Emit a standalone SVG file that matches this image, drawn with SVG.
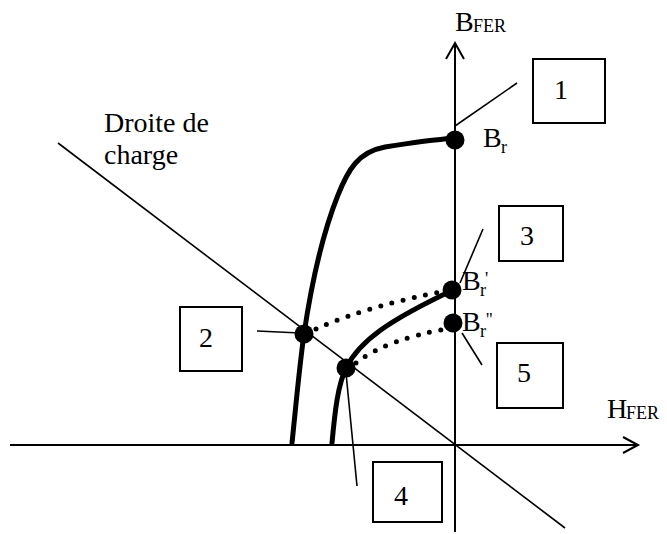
<svg xmlns="http://www.w3.org/2000/svg" width="667" height="534" viewBox="0 0 667 534">
<style>
text{font-family:"Liberation Serif",Tinos,"Nimbus Roman","Times New Roman",Times,"DejaVu Serif","Noto Serif",serif;fill:#000}
.t{font-size:28px}
.s{font-size:18px}
.ax{stroke:#000;stroke-width:2;fill:none}
.thin{stroke:#000;stroke-width:1.6;fill:none}
.box{stroke:#000;stroke-width:2;fill:#fff}
.thick{stroke:#000;stroke-width:5;fill:none;stroke-linecap:round}
.dot{stroke:#000;stroke-width:5;fill:none;stroke-linecap:round;stroke-dasharray:0 11.5}
</style>
<g id="axes">
<line class="ax" x1="455" y1="532" x2="455" y2="43"/>
<polyline class="ax" points="446,59 455,43 464,59"/>
<line class="ax" x1="10" y1="445" x2="638" y2="445"/>
<polyline class="ax" points="623,437 638,445 623,453"/>
<text class="t" x="455" y="31">B</text><text class="s" x="473" y="32">FER</text>
<text class="t" x="607" y="418">H</text><text class="s" x="626" y="419">FER</text>
</g>
<g id="droite">
<line class="thin" x1="58" y1="143" x2="565" y2="528"/>
<text class="t" x="104" y="132">Droite de</text>
<text class="t" x="104" y="164">charge</text>
</g>
<g id="connectors">
<path class="thick" d="M292,443 C296,405 299,370 304,334 C312,280 322,235 338,195 C348,170 358,152 385,147 C410,143 430,140 455,138"/>
<path class="thick" d="M332,443 C335,410 338,385 346,368 C360,340 390,320 453,290"/>
<path class="dot" d="M316,329 Q370,305 446,291"/>
<path class="dot" d="M356,363 Q385,340 446,329"/>
<line class="thin" x1="455" y1="126" x2="517" y2="83"/>
<line class="thin" x1="257" y1="331" x2="300" y2="333"/>
<line class="thin" x1="460" y1="283" x2="483" y2="229"/>
<line class="thin" x1="346" y1="373" x2="357" y2="486"/>
<line class="thin" x1="462" y1="333" x2="482" y2="365"/>
</g>
<g id="Br">
<circle cx="455" cy="140" r="9.5"/>
<text class="t" x="483" y="147">B</text><text class="s" x="501" y="153">r</text>
</g>
<g id="Br1">
<circle cx="452" cy="290" r="9.5"/>
<text class="t" x="462" y="290">B</text><text class="s" x="480" y="296">r</text><text class="s" x="485" y="285">'</text>
</g>
<g id="Br2">
<circle cx="453" cy="323" r="9.5"/>
<text class="t" x="462" y="331">B</text><text class="s" x="480" y="337">r</text><text class="s" x="486" y="326">''</text>
</g>
<g id="p2"><circle cx="304" cy="334" r="9.5"/></g>
<g id="p4"><circle cx="346" cy="368" r="9.5"/></g>
<g id="box1"><rect class="box" x="533" y="59" width="72" height="64"/><text class="t" x="561" y="99" text-anchor="middle">1</text></g>
<g id="box2"><rect class="box" x="180" y="307" width="62" height="64"/><text class="t" x="206" y="347" text-anchor="middle">2</text></g>
<g id="box3"><rect class="box" x="499" y="206" width="64" height="55"/><text class="t" x="527" y="245" text-anchor="middle">3</text></g>
<g id="box4"><rect class="box" x="373" y="462" width="69" height="60"/><text class="t" x="401" y="505" text-anchor="middle">4</text></g>
<g id="box5"><rect class="box" x="497" y="343" width="66" height="65"/><text class="t" x="524" y="382" text-anchor="middle">5</text></g>
</svg>
